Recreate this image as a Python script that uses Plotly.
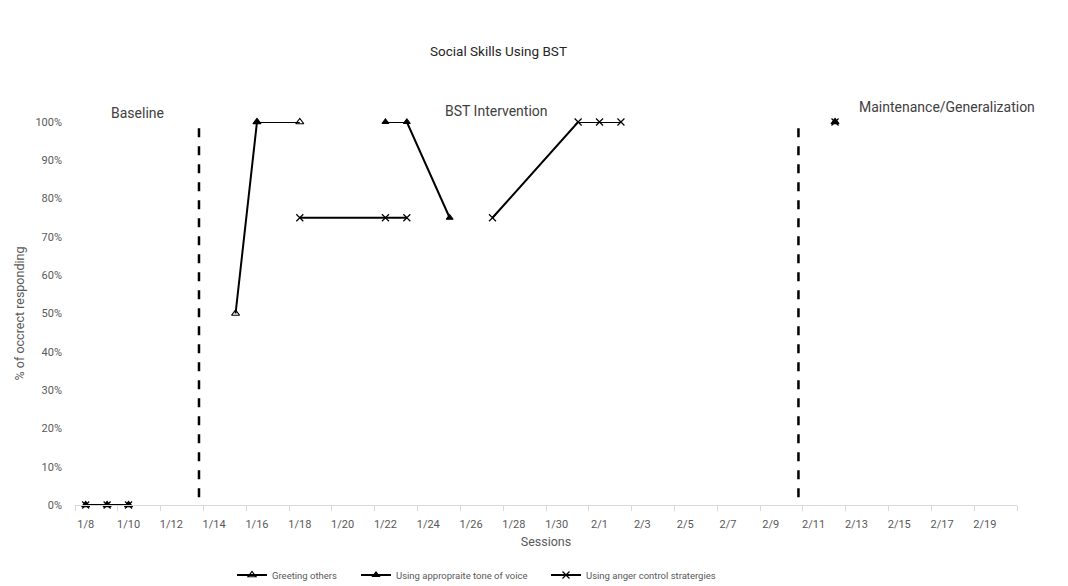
import plotly.graph_objects as go

# Session dates and phase of each session
sessions = ["2024-01-08", "2024-01-09", "2024-01-10", "2024-01-15", "2024-01-16",
            "2024-01-18", "2024-01-22", "2024-01-23", "2024-01-25", "2024-01-27",
            "2024-01-31", "2024-02-01", "2024-02-02", "2024-02-12"]
phases = ["Baseline"] * 3 + ["BST"] * 10 + ["Maint"]

# Proportion of correct responding per skill (None = not probed)
greeting = [0, 0, 0, 0.50, 1.00, 1.00, None, None, None, None, None, None, None, 1.00]
tone = [0, 0, 0, None, 1.00, None, 1.00, 1.00, 0.75, None, None, None, None, 1.00]
anger = [0, 0, 0, None, None, 0.75, 0.75, 0.75, None, 0.75, 1.00, 1.00, 1.00, 1.00]

# Axis tick labels (every second day)
tick_dates = ["2024-01-08", "2024-01-10", "2024-01-12", "2024-01-14", "2024-01-16",
              "2024-01-18", "2024-01-20", "2024-01-22", "2024-01-24", "2024-01-26",
              "2024-01-28", "2024-01-30", "2024-02-01", "2024-02-03", "2024-02-05",
              "2024-02-07", "2024-02-09", "2024-02-11", "2024-02-13", "2024-02-15",
              "2024-02-17", "2024-02-19"]
tick_labels = ["1/8", "1/10", "1/12", "1/14", "1/16", "1/18", "1/20", "1/22", "1/24",
               "1/26", "1/28", "1/30", "2/1", "2/3", "2/5", "2/7", "2/9", "2/11",
               "2/13", "2/15", "2/17", "2/19"]

# Phase-change lines (between sessions)
phase_changes = ["2024-01-13 07:00", "2024-02-10 07:00"]

FONT = "Roboto"
GRAY = "#595959"
W, H = 1068, 586


def split_by_phase(xs, ys, ph):
    """Insert a break so lines never cross a phase change."""
    ox, oy = [], []
    for i, (x, y) in enumerate(zip(xs, ys)):
        if i > 0 and ph[i] != ph[i - 1]:
            ox.append(None)
            oy.append(None)
        ox.append(x)
        oy.append(y)
    return ox, oy


series = [
    ("Greeting others", greeting, "triangle-up-open", 7, "legend", 232),
    ("Using appropraite tone of voice", tone, "triangle-up", 6, "legend2", 356),
    ("Using anger control stratergies", anger, "x-thin", 7, "legend3", 546),
]

fig = go.Figure()
legend_layout = {}
for name, vals, sym, size, leg, lx in series:
    x, y = split_by_phase(sessions, vals, phases)
    fig.add_trace(go.Scatter(
        x=x, y=y, name=name, mode="lines+markers", legend=leg,
        line=dict(color="black", width=2),
        marker=dict(symbol=sym, size=size, color="black",
                    line=dict(color="black", width=1.2)),
        cliponaxis=False,
    ))
    legend_layout[leg] = dict(
        orientation="h", xref="container", yref="container",
        x=lx / W, xanchor="left", y=(H - 575) / H, yanchor="middle",
        font=dict(family=FONT, size=9.5, color=GRAY), itemwidth=30,
        bgcolor="rgba(0,0,0,0)",
    )

for d, top in zip(phase_changes, [1.022, 1.035]):
    fig.add_shape(type="line", xref="x", yref="y", x0=d, x1=d, y0=0.02, y1=top,
                  line=dict(color="black", width=2.5, dash="dash"))

# Pixel helpers for annotation placement
L, R, T, B = 75, 1017, 121.5, 505


def px_x(px):
    return (px - L) / (R - L)


def px_y(py):
    return (B - py) / (B - T)


annos = [
    ("Social Skills Using BST", 498, 50, 13.5, "#262626"),
    ("Baseline", 137, 112, 14, "#404040"),
    ("BST Intervention", 496, 110, 14, "#404040"),
    ("Maintenance/Generalization", 947, 106, 14, "#404040"),
]
for text, ax, ay, fs, col in annos:
    fig.add_annotation(text=text, x=px_x(ax), y=px_y(ay), xref="paper", yref="paper",
                       showarrow=False, xanchor="center", yanchor="middle",
                       font=dict(family=FONT, size=fs, color=col))

fig.update_layout(
    width=W, height=H,
    margin=dict(l=L, r=W - R, t=T, b=H - B),
    plot_bgcolor="white", paper_bgcolor="white",
    font=dict(family=FONT, size=11, color=GRAY),
    showlegend=True,
    **legend_layout,
)

fig.update_xaxes(
    type="date", range=["2024-01-07 12:00", "2024-02-20 12:00"],
    tickvals=tick_dates, ticktext=tick_labels, ticks="",
    ticklabelstandoff=9,
    showgrid=False, zeroline=False,
    showline=True, linecolor="#d9d9d9", linewidth=1,
    minor=dict(ticks="outside", ticklen=5, tickcolor="#d9d9d9",
               tick0="2024-01-07 12:00", dtick=2 * 86400000, showgrid=False),
    tickfont=dict(size=11, color=GRAY),
    title=dict(text="Sessions", font=dict(size=12.5, color=GRAY), standoff=7),
)
fig.update_yaxes(
    range=[0, 1], tickvals=[i / 10 for i in range(11)], tickformat=".0%",
    showgrid=False, zeroline=False, showline=False, ticks="",
    ticklabelstandoff=12,
    tickfont=dict(size=11, color=GRAY),
    title=dict(text="% of occrect responding", font=dict(size=12.5, color=GRAY),
               standoff=8),
)

fig.write_html("out.html")
